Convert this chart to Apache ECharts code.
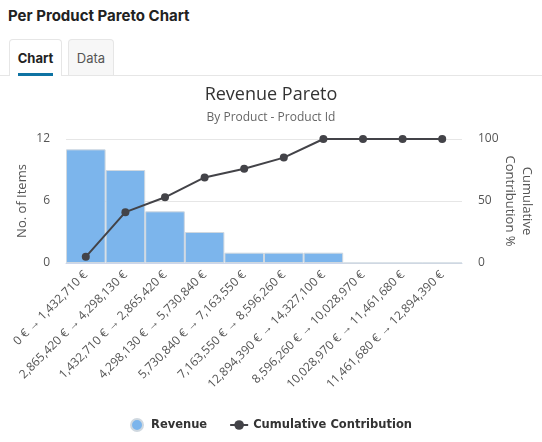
<!DOCTYPE html>
<html>
<head>
<meta charset="utf-8">
<script src="https://cdn.jsdelivr.net/npm/echarts@6/dist/echarts.min.js"></script>
<style>
    body { margin: 0; background: #fff; font-family: Inter, sans-serif; }
    .page-title { position: absolute; left: 8px; top: 6px; font-size: 15px; font-weight: 700; color: #222; }
    .tabs-line { position: absolute; left: 0; top: 75px; width: 542px; height: 1px; background: #e6e6e6; }
    .tab { position: absolute; top: 39px; height: 36px; box-sizing: border-box; border: 1px solid #e6e6e6; border-bottom: none;
           border-radius: 4px 4px 0 0; font-size: 13px; line-height: 36px; text-align: center; }
    .tab.active { left: 9px; width: 53px; background: #fff; color: #222; font-weight: 700; height: 37px; z-index: 2; }
    .tab.active span { display: inline-block; border-bottom: 3px solid #0e73a3; line-height: 30px; padding-top: 3px; }
    .tab.other { left: 68px; width: 46px; background: #f7f7f7; color: #555; }
    #chart { position: absolute; left: 0; top: 78px; width: 542px; height: 364px; }
</style>
</head>
<body>
<div class="page-title">Per Product Pareto Chart</div>
<div class="tab active"><span>Chart</span></div>
<div class="tab other">Data</div>
<div class="tabs-line"></div>
<div id="chart"></div>
<script>
    // 数据
    var categories = [
        '0 € → 1,432,710 €',
        '2,865,420 € → 4,298,130 €',
        '1,432,710 € → 2,865,420 €',
        '4,298,130 € → 5,730,840 €',
        '5,730,840 € → 7,163,550 €',
        '7,163,550 € → 8,596,260 €',
        '12,894,390 € → 14,327,100 €',
        '8,596,260 € → 10,028,970 €',
        '10,028,970 € → 11,461,680 €',
        '11,461,680 € → 12,894,390 €'
    ];
    var itemCounts = [11, 9, 5, 3, 1, 1, 1, 0, 0, 0];
    var cumulativePct = [5, 41, 53, 69, 76, 85, 100, 100, 100, 100];
    var leftTicks = [0, 6, 12];
    var rightTicks = [0, 50, 100];

    var axisFont = 'Open Sans';
    var myChart = echarts.init(document.getElementById('chart'));

    var option = {
        animation: false,
        title: {
            text: 'Revenue Pareto',
            subtext: 'By Product - Product Id',
            left: 'center',
            top: 3,
            itemGap: 8,
            textStyle: { fontFamily: axisFont, fontSize: 18, fontWeight: 'normal', color: '#333' },
            subtextStyle: { fontFamily: axisFont, fontSize: 12, color: '#666' }
        },
        legend: {
            bottom: 5,
            itemGap: 22,
            itemWidth: 18,
            itemHeight: 12,
            textStyle: { fontFamily: 'DejaVu Sans', fontSize: 11.5, fontWeight: 'bold', color: '#333' },
            data: [
                { name: 'Revenue', icon: 'circle' },
                { name: 'Cumulative Contribution' }
            ]
        },
        grid: { left: 66, right: 80, top: 61, height: 124, outerBoundsMode: 'none' },
        xAxis: {
            type: 'category',
            data: categories,
            axisTick: { show: false },
            axisLine: { lineStyle: { color: '#ccd6eb' } },
            axisLabel: { rotate: 45, interval: 0, fontFamily: axisFont, fontSize: 12, color: '#555', margin: 10 }
        },
        yAxis: [{
            type: 'value',
            min: leftTicks[0],
            max: leftTicks[leftTicks.length - 1],
            interval: leftTicks[1] - leftTicks[0],
            name: 'No. of Items',
            nameLocation: 'middle',
            nameGap: 37,
            nameMoveOverlap: false,
            nameTextStyle: { fontFamily: axisFont, fontSize: 13, color: '#555' },
            axisLabel: { fontFamily: axisFont, fontSize: 12, color: '#555', margin: 16 },
            splitLine: { lineStyle: { color: '#e6e6e6' } }
        }, {
            type: 'value',
            min: rightTicks[0],
            max: rightTicks[rightTicks.length - 1],
            interval: rightTicks[1] - rightTicks[0],
            name: 'Cumulative\nContribution %',
            nameLocation: 'middle',
            nameRotate: -90,
            nameGap: 39,
            nameMoveOverlap: false,
            nameTextStyle: { fontFamily: axisFont, fontSize: 13, color: '#555', lineHeight: 17 },
            axisLabel: { fontFamily: axisFont, fontSize: 12, color: '#555', margin: 16 },
            splitLine: { lineStyle: { color: '#e6e6e6' } }
        }],
        series: [{
            name: 'Revenue',
            type: 'bar',
            data: itemCounts,
            barCategoryGap: '0%',
            itemStyle: { color: '#7cb5ec', borderColor: '#cfd8e0', borderWidth: 1 }
        }, {
            name: 'Cumulative Contribution',
            type: 'line',
            yAxisIndex: 1,
            data: cumulativePct,
            symbol: 'circle',
            symbolSize: 8,
            itemStyle: { color: '#434348' },
            lineStyle: { color: '#434348', width: 2 }
        }]
    };

    myChart.setOption(option);
</script>
</body>
</html>
